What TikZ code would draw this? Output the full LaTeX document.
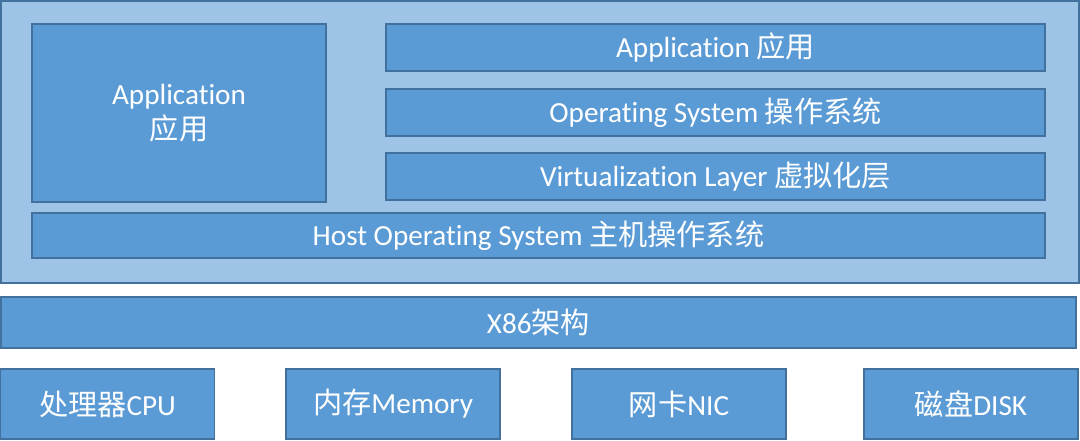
\documentclass[tikz,border=0pt]{standalone}
\usepackage{fontspec}
\setmainfont{Carlito}[Ligatures=NoCommon]
\newfontfamily\cjk{Noto Sans CJK SC}
\definecolor{blkfill}{HTML}{5B9BD5}
\definecolor{blkline}{HTML}{41719C}
\definecolor{hostfill}{HTML}{9DC3E6}
\tikzset{
	blk/.style={draw=blkline, fill=blkfill, line width=0.8pt, text=white,
		inner sep=0pt, font=\fontsize{16.6}{20}\selectfont, align=center},
}
\begin{document}
\begin{tikzpicture}
		\useasboundingbox (0,0) rectangle (21.6,8.8);
		
		% Host machine
		\node[blk, fill=hostfill, minimum width=21.56cm, minimum height=5.64cm] (host) at (10.8,5.96) {};
		
		% Guest side
		\node[blk, minimum width=5.88cm, minimum height=3.56cm] (app) at (3.58,6.54) {Application\\{\cjk 应用}};
		\node[blk, minimum width=13.18cm, minimum height=0.94cm] (gapp) at (14.31,7.85) {Application {\cjk 应用}};
		\node[blk, minimum width=13.18cm, minimum height=0.94cm] (gos) at (14.31,6.55) {Operating System {\cjk 操作系统}};
		\node[blk, minimum width=13.18cm, minimum height=0.94cm] (virt) at (14.31,5.27) {Virtualization Layer {\cjk 虚拟化层}};
		\node[blk, minimum width=20.26cm, minimum height=0.9cm] (hos) at (10.77,4.09) {Host Operating System {\cjk 主机操作系统}};
		
		% Hardware
		\node[blk, minimum width=21.5cm, minimum height=1.02cm] (x86) at (10.77,2.35) {X86{\cjk 架构}};
		\node[blk, minimum width=4.28cm, minimum height=1.4cm] (cpu) at (2.15,0.72) {{\cjk 处理器}CPU};
		\node[blk, minimum width=4.28cm, minimum height=1.4cm] (mem) at (7.86,0.72) {{\cjk 内存}Memory};
		\node[blk, minimum width=4.28cm, minimum height=1.4cm] (nic) at (13.58,0.72) {{\cjk 网卡}NIC};
		\node[blk, minimum width=4.28cm, minimum height=1.4cm] (disk) at (19.42,0.72) {{\cjk 磁盘}DISK};
	\end{tikzpicture}
\end{document}
